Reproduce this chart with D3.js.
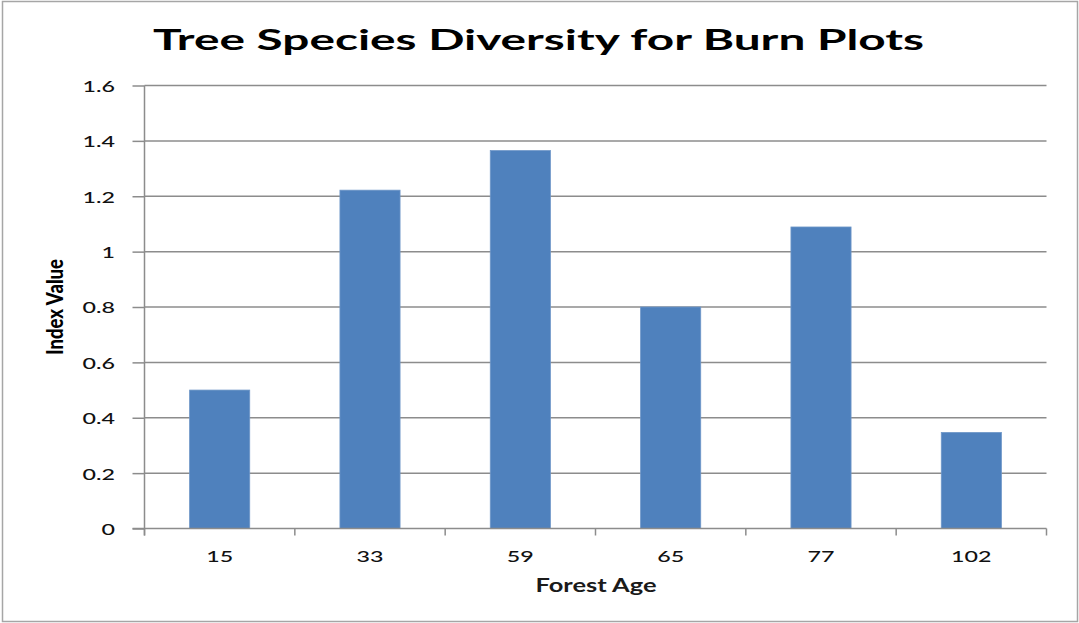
<!DOCTYPE html>
<html><head><meta charset="utf-8">
<script src="https://cdn.jsdelivr.net/npm/d3@7/dist/d3.min.js"></script>
<style>body{margin:0;background:#fff}svg{display:block}</style>
</head><body>
<svg id="c" width="1079" height="623"></svg>
<script>
const categories = ["15","33","59","65","77","102"];
const values = [0.50, 1.222, 1.365, 0.80, 1.089, 0.347];
const yTicks = [0,0.2,0.4,0.6,0.8,1,1.2,1.4,1.6];
const yTickLabels = ["0","0.2","0.4","0.6","0.8","1","1.2","1.4","1.6"];
const title = "Tree Species Diversity for Burn Plots";
const xTitle = "Forest Age";
const yTitle = "Index Value";

const svg = d3.select("#c");
const L = 144.5, R = 1046.5, T = 85.5, B = 528.5;
const SX = 1.5;
const font = "Lato, 'Open Sans', sans-serif";

svg.append("rect").attr("x",2.5).attr("y",1.5).attr("width",1075).attr("height",620)
  .attr("fill","#fff").attr("stroke","#a6a6a6").attr("stroke-width",1.5);

const x = d3.scaleBand().domain(categories).range([L,R]).paddingInner(0.6).paddingOuter(0.3);
const xb = d3.scaleBand().domain(categories).range([L,R]);
const y = d3.scaleLinear().domain([0,1.6]).range([B,T]);

// gridlines
svg.append("g").selectAll("line").data(yTicks.filter(d=>d>0)).join("line")
  .attr("x1",L).attr("x2",R).attr("y1",d=>y(d)).attr("y2",d=>y(d))
  .attr("stroke","#8c8c8c").attr("stroke-width",1.5);

// bars
svg.append("g").selectAll("rect").data(values).join("rect")
  .attr("x",(d,i)=>x(categories[i])).attr("width",x.bandwidth())
  .attr("y",d=>y(d)).attr("height",d=>B-y(d))
  .attr("fill","#4f81bd").attr("stroke","#6f97c8").attr("stroke-width",0.8);

// y axis
const yAxis = d3.axisLeft(y).tickValues(yTicks).tickSize(12).tickFormat((d,i)=>yTickLabels[i]);
const gy = svg.append("g").attr("transform",`translate(${L},0)`).call(yAxis);
gy.select(".domain").attr("stroke","#8c8c8c").attr("stroke-width",1.5).attr("d",`M0,${T}V${B+7}`);
gy.selectAll(".tick line").attr("stroke","#8c8c8c").attr("stroke-width",1.5);
gy.selectAll(".tick text").attr("x",0).attr("dy",null).attr("dominant-baseline","central")
  .attr("font-family",font).attr("font-size",15.5).attr("font-weight",500).attr("fill","#111").attr("text-anchor","end")
  .attr("transform",`translate(-29.5,0) scale(${SX},1)`);

// x axis
const xAxis = d3.axisBottom(xb).tickSize(0).tickPadding(0);
const gx = svg.append("g").attr("transform",`translate(0,${B})`).call(xAxis);
gx.select(".domain").attr("stroke","#8c8c8c").attr("stroke-width",1.5).attr("d",`M${L-12},0H${R}`);
gx.selectAll(".tick text").attr("y",0).attr("dy",null)
  .attr("font-family",font).attr("font-size",15.5).attr("font-weight",500).attr("fill","#111")
  .attr("transform",`translate(0,33.5) scale(${SX},1)`);
const bounds = categories.map(c=>xb(c)).concat([R]);
svg.append("g").selectAll("line").data(bounds).join("line")
  .attr("x1",d=>d).attr("x2",d=>d).attr("y1",B).attr("y2",B+7)
  .attr("stroke","#8c8c8c").attr("stroke-width",1.5);

// titles
svg.append("text").attr("x",538.5).attr("y",49.5).attr("text-anchor","middle")
  .attr("font-family",font).attr("font-weight","bold").attr("font-size",29).attr("fill","#000")
  .attr("textLength",771).attr("lengthAdjust","spacingAndGlyphs").text(title);
svg.append("text").attr("x",596).attr("y",592).attr("text-anchor","middle")
  .attr("font-family",font).attr("font-weight","bold").attr("font-size",18).attr("fill","#1a1a1a")
  .attr("textLength",121).attr("lengthAdjust","spacingAndGlyphs").text(xTitle);
svg.append("text").attr("transform",`translate(63,307) scale(1.5,1) rotate(-90)`).attr("text-anchor","middle")
  .attr("font-family",font).attr("font-weight",900).attr("font-size",14.5).attr("fill","#000")
  .attr("textLength",96).attr("lengthAdjust","spacingAndGlyphs").text(yTitle);
</script>
</body></html>
